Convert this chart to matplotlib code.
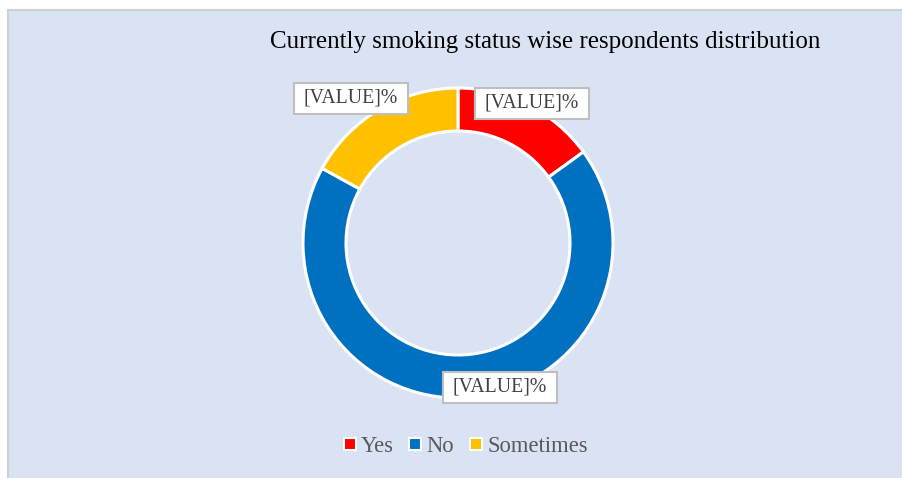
import matplotlib
matplotlib.use("Agg")
import matplotlib.pyplot as plt
from matplotlib.patches import Rectangle
from matplotlib.lines import Line2D

categories = ["Yes", "No", "Sometimes"]
values = [15, 68, 17]
colors = ["#ff0000", "#0070c0", "#ffc000"]
label_texts = ["[VALUE]%", "[VALUE]%", "[VALUE]%"]
title = "Currently smoking status wise respondents distribution"

W, H = 902, 478
fig = plt.figure(figsize=(W / 100, H / 100), dpi=100)
fig.patch.set_facecolor("white")
ax = fig.add_axes([0, 0, 1, 1])

# chart area background
ax.add_patch(Rectangle((8, -5), W, H - 5, facecolor="#dae3f3",
                       edgecolor="#d0d0d0", linewidth=1.5, zorder=0))

cx, cy, R, ring = 458, 235, 155, 43
wedges, _ = ax.pie(values, colors=colors, startangle=90, counterclock=False,
                   center=(cx, cy), radius=R,
                   wedgeprops=dict(width=ring, edgecolor="white", linewidth=2.2))
ax.set_xlim(0, W)
ax.set_ylim(0, H)
ax.set_aspect("equal")
ax.axis("off")

# data labels (Excel best-fit positions) with fixed-size boxes
label_pos = [(532, 375), (500, 91), (351, 380)]
bw, bh = 114, 31
for (x, y), t in zip(label_pos, label_texts):
    ax.add_patch(Rectangle((x - bw / 2, y - bh / 2), bw, bh, facecolor="white",
                           edgecolor="#bfbfbf", linewidth=1.5, zorder=4))
    ax.text(x, y, t, ha="center", va="center", fontsize=14.2,
            family="Liberation Serif", color="#404040", zorder=5)

ax.text(545, H - 42, title, ha="center", va="center", fontsize=18,
        family="Liberation Serif", color="#000000")

handles = [Line2D([], [], marker="s", linestyle="none", markersize=8,
                  markerfacecolor=c, markeredgecolor="white", markeredgewidth=1.5)
           for c in colors]
leg = fig.legend(handles, categories, loc="center", ncol=3,
                 bbox_to_anchor=(463 / W, 1 - 446 / H), frameon=False,
                 prop=dict(family="Liberation Serif", size=16.3),
                 handletextpad=0.0, columnspacing=0.45, handlelength=1.0)
for t in leg.get_texts():
    t.set_color("#595959")

fig.savefig("out.png", dpi=100, facecolor=fig.get_facecolor())
